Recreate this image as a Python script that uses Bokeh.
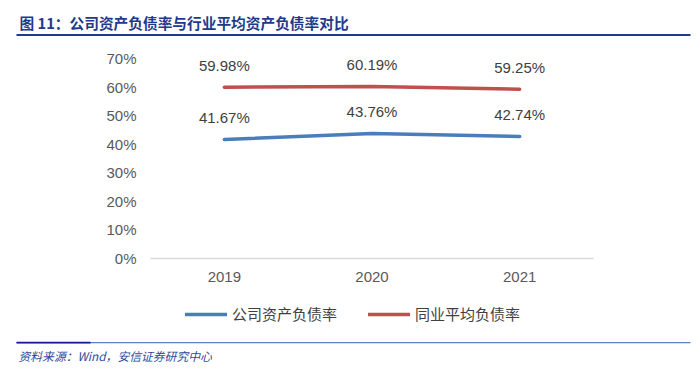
from bokeh.plotting import figure
from bokeh.layouts import column
from bokeh.models import (ColumnDataSource, FactorRange, Range1d, Legend, LegendItem,
                          FixedTicker, CustomJSTickFormatter)
from bokeh.core.properties import value
from bokeh.embed import file_html
from bokeh.resources import INLINE

years = ["2019", "2020", "2021"]
company = [41.67, 43.76, 42.74]
industry = [59.98, 60.19, 59.25]
y_ticks = [0, 10, 20, 30, 40, 50, 60, 70]
title_text = "图 11：公司资产负债率与行业平均资产负债率对比"
source_text = "资料来源：Wind，安信证券研究中心"
series_names = ["公司资产负债率", "同业平均负债率"]

BLUE = "#4A7EBB"
RED = "#C0504D"
NAVY = "#1F3A8A"
W = 692


def deco_fig(h):
    f = figure(width=W, height=h, x_range=Range1d(0, W), y_range=Range1d(h, 0),
               x_axis_type=None, y_axis_type=None, output_backend="svg",
               toolbar_location=None, min_border=0, frame_align=False)
    f.outline_line_color = None
    f.grid.grid_line_color = None
    return f


# ---- header: title + rule
header = deco_fig(46)
header.text(x=[19], y=[22], text=[title_text], text_baseline="middle", text_align="left",
            text_font=value("Noto Sans CJK SC"), text_font_style="bold",
            text_font_size="14.7px", text_color=NAVY)
header.quad(left=[16], right=[690], top=[33.5], bottom=[35.5], fill_color=NAVY, line_color=None)

# ---- main chart
src = ColumnDataSource(dict(
    x=years, company=company, industry=industry,
    company_lbl=[f"{v:.2f}%" for v in company],
    industry_lbl=[f"{v:.2f}%" for v in industry],
))

MH = 244
p = figure(width=W, height=MH, x_range=FactorRange(*years, range_padding=0),
           y_range=Range1d(0, 70), output_backend="svg", toolbar_location=None,
           min_border_left=150, min_border_right=W - 593, min_border_top=12,
           min_border_bottom=MH - 212, frame_align=False)
p.outline_line_color = None
p.grid.grid_line_color = None

p.yaxis.ticker = FixedTicker(ticks=y_ticks)
p.yaxis.formatter = CustomJSTickFormatter(code="return tick.toFixed(0) + '%';")
p.yaxis.axis_line_color = None
p.yaxis.major_tick_line_color = None
p.yaxis.minor_tick_line_color = None
p.yaxis.major_tick_out = 0
p.yaxis.major_label_standoff = 14
p.yaxis.major_label_text_font = "Liberation Sans"
p.yaxis.major_label_text_font_size = "15px"
p.yaxis.major_label_text_color = "#595959"

p.xaxis.axis_line_color = "#D9D9D9"
p.xaxis.axis_line_width = 1.5
p.xaxis.major_tick_line_color = None
p.xaxis.minor_tick_line_color = None
p.xaxis.major_tick_out = 0
p.xaxis.major_label_standoff = 13
p.xaxis.major_label_text_font = "Liberation Sans"
p.xaxis.major_label_text_font_size = "15px"
p.xaxis.major_label_text_color = "#595959"

p.line("x", "company", source=src, line_color=BLUE, line_width=3.5, line_cap="round")
p.line("x", "industry", source=src, line_color=RED, line_width=3.5, line_cap="round")

for col in ["company", "industry"]:
    p.text("x", col, text=col + "_lbl", source=src, y_offset=-22,
           text_align="center", text_baseline="middle",
           text_font=value("Liberation Sans"), text_font_size="15px", text_color="#404040")

# ---- legend strip (single-point proxy lines draw nothing, only feed the legend)
lg = deco_fig(40)
k1 = lg.line(x=[0], y=[0], line_color=BLUE, line_width=3.5, line_cap="round")
k2 = lg.line(x=[0], y=[0], line_color=RED, line_width=3.5, line_cap="round")
legend = Legend(items=[LegendItem(label=series_names[0], renderers=[k1]),
                       LegendItem(label=series_names[1], renderers=[k2])],
                orientation="horizontal", location=(185, 6),
                glyph_width=42, glyph_height=14, label_standoff=5, spacing=31,
                label_text_font="Noto Sans CJK SC", label_text_font_size="15px",
                label_text_color="#404040", border_line_color=None,
                background_fill_alpha=0, padding=0, margin=0)
lg.add_layout(legend, "center")

# ---- footer: rule + source
footer = deco_fig(40)
footer.quad(left=[16], right=[690], top=[11.5], bottom=[12.8], fill_color="#5B7FC0", line_color=None)
footer.quad(left=[16, 616], right=[90, 690], top=[11.3], bottom=[13.0], fill_color="#1A1A9A",
            line_color=None)
footer.text(x=[18], y=[25], text=[source_text], text_baseline="middle", text_align="left",
            text_font=value("Noto Sans CJK SC"), text_font_style="italic",
            text_font_size="11.8px", text_color="#2B4A9A")

layout = column(header, p, lg, footer, spacing=0)
open("out.html", "w").write(file_html(layout, INLINE))
